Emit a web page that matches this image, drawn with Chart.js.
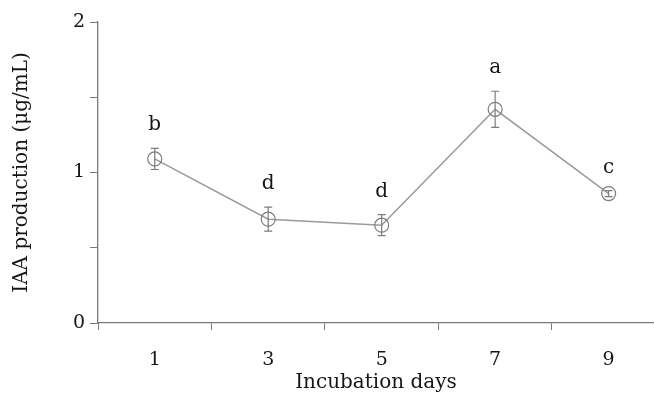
<!DOCTYPE html>
<html>
<head>
<meta charset="utf-8">
<script src="https://cdn.jsdelivr.net/npm/chart.js@4.4.0/dist/chart.umd.min.js"></script>
<style>
html,body{margin:0;padding:0;background:#fff;}
#wrap{width:654px;height:405px;}
</style>
</head>
<body>
<div id="wrap"><canvas id="iaa_chart" width="654" height="405"></canvas></div>
<script>
/*数据*/
var days = [1, 3, 5, 7, 9];
var iaa_mean = [1.09, 0.69, 0.65, 1.42, 0.86];
var iaa_err = [0.07, 0.08, 0.07, 0.12, 0.02];
var sig_letters = ['b', 'd', 'd', 'a', 'c'];
var x_ticks = [0, 1, 2, 3, 4, 5, 6, 7, 8, 9];

var axis_grey = '#7a7a7a';
var text_col = '#161616';
Chart.defaults.font.family = '"DejaVu Serif", serif';
Chart.defaults.font.size = 19;
Chart.defaults.color = text_col;

/*误差线 + 字母*/
var errbar_plugin = {
    id: 'errbars',
    afterDatasetsDraw: function(chart) {
        var ctx = chart.ctx;
        var xs = chart.scales.x, ys = chart.scales.y;
        ctx.save();
        ctx.strokeStyle = '#7d7d7d';
        ctx.lineWidth = 1.2;
        for (var i = 0; i < days.length; i++) {
            var x = xs.getPixelForValue(days[i]);
            var top = ys.getPixelForValue(iaa_mean[i] + iaa_err[i]);
            var bot = ys.getPixelForValue(iaa_mean[i] - iaa_err[i]);
            ctx.beginPath();
            ctx.moveTo(x, top); ctx.lineTo(x, bot);
            ctx.moveTo(x - 4, top); ctx.lineTo(x + 4, top);
            ctx.moveTo(x - 4, bot); ctx.lineTo(x + 4, bot);
            ctx.stroke();
            ctx.fillStyle = text_col;
            ctx.font = '20px "DejaVu Serif"';
            ctx.textAlign = 'center';
            ctx.textBaseline = 'alphabetic';
            ctx.fillText(sig_letters[i], x, top - 18);
        }
        ctx.restore();
    }
};

var ctx = document.getElementById('iaa_chart').getContext('2d');
var myChart = new Chart(ctx, {
    type: 'line',
    data: {
        datasets: [{
            data: days.map(function(d, i) { return {x: d, y: iaa_mean[i]}; }),
            borderColor: '#9a9a9a',
            borderWidth: 1.5,
            pointRadius: 7,
            pointBorderWidth: 1.2,
            pointBorderColor: '#7d7d7d',
            pointBackgroundColor: 'rgba(0,0,0,0)',
            tension: 0
        }]
    },
    options: {
        responsive: false,
        animation: false,
        devicePixelRatio: 1,
        layout: {autoPadding: false, padding: {top: 22, right: 0, left: 0, bottom: 0}},
        plugins: {legend: {display: false}, tooltip: {enabled: false}},
        scales: {
            x: {
                type: 'linear',
                min: 0,
                max: 9.8,
                afterBuildTicks: function(scale) {
                    scale.ticks = x_ticks.map(function(v) { return {value: v}; });
                },
                afterFit: function(scale) {
                    scale.height = 82;
                    scale.paddingLeft = 0;
                    scale.paddingRight = 0;
                },
                ticks: {
                    autoSkip: false,
                    maxRotation: 0,
                    padding: 19,
                    callback: function(v) { return v % 2 === 1 ? String(v) : ''; }
                },
                grid: {
                    drawOnChartArea: false,
                    tickLength: 7,
                    tickColor: function(c) {
                        return (c.tick && c.tick.value % 2 === 0) ? axis_grey : 'rgba(0,0,0,0)';
                    }
                },
                border: {color: axis_grey, width: 1.3},
                title: {display: true, text: 'Incubation days', font: {size: 20}, padding: {top: 4, bottom: 10}}
            },
            y: {
                min: 0,
                max: 2,
                afterFit: function(scale) { scale.width = 98; },
                ticks: {
                    stepSize: 0.5,
                    padding: 5,
                    callback: function(v) { return v % 1 === 0 ? String(v) : ''; }
                },
                grid: {drawOnChartArea: false, tickLength: 8, tickColor: axis_grey},
                border: {color: axis_grey, width: 1.3},
                title: {display: true, text: 'IAA production (μg/mL)', font: {size: 20}, padding: {top: 10, bottom: 0}}
            }
        }
    },
    plugins: [errbar_plugin]
});
</script>
</body>
</html>
